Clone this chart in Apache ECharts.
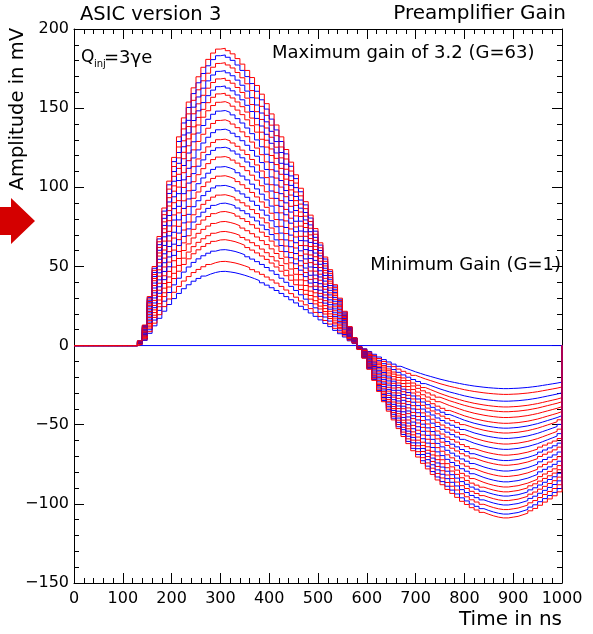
<!DOCTYPE html>
<html><head><meta charset="utf-8">
<script src="https://cdn.jsdelivr.net/npm/echarts@6/dist/echarts.min.js"></script>
<style>html,body{margin:0;padding:0;background:#fff}#c{width:593px;height:634px}</style>
</head><body><div id="c"></div>
<script>
// ---- data ----
const binWidth = 10;               // ns per histogram bin
const timeMin = 0, timeMax = 1000;
const ampMin = -150, ampMax = 200;
// reference pulse: the highest-gain curve (G=63), mV per 10 ns bin, bins start at 0,10,...,990
const referencePulse = [
  0,0,0,0,0,0,0,0,0,0,            // 0-90
  0,0,0,3,13,31,50,69,87,104,     // 100-190
  119,132,144,154,163,170,176,181,185,187.5, // 200-290
  188,186.5,184.5,181.5,178,174,169.5,164.5,159,153, // 300-390
  146.5,139.5,132,124,116,108,99.5,91,82.5,74, // 400-490
  65,56,48,38.5,30,21.7,12,5,-2.5,-8, // 500-590
  -15,-22,-29,-35.5,-41.5,-47,-52.5,-57.5,-62,-66.5, // 600-690
  -70.5,-74.5,-78,-81.5,-85,-88,-91,-93.5,-96,-98.5, // 700-790
  -100.5,-102.5,-104,-105.5,-106.7,-107.7,-108.5,-109,-109,-108.5, // 800-890
  -108,-107,-106,-104.5,-103,-101,-99,-97,-95,-92.5  // 900-990
];
const referencePeak = 188;
// peak amplitude of each gain setting, from highest to lowest (mV)
const peakAmplitudes = [187.8,183.6,178.7,173.7,168.9,164,159.4,154.1,148.5,142.6,136.7,130.4,125.3,
  119.4,113.1,107.3,101.2,95.3,90,84.7,78.4,72.1,66.9,60.6,53.2,46.9];
const curveColors = ['r','b','r','b','r','b','r','r','b','r','b','r','b','r','b','r','b','r','b','r','r','r','r','b','r','b'];
const xTickValues = [0,100,200,300,400,500,600,700,800,900,1000];
const yTickValues = [-150,-100,-50,0,50,100,150,200];
const titleLeft = 'ASIC version 3';
const titleRight = 'Preamplifier Gain';
const maxLabel = 'Maximum gain of 3.2 (G=63)';
const minLabel = 'Minimum Gain (G=1)';
const xTitle = 'Time in ns';
const yTitle = 'Amplitude in mV';

// ---- build ----
const RED = '#ff0000', BLUE = '#0000ff';
const timeBins = referencePulse.map((_, i) => timeMin + i * binWidth);
function curveData(peak) {
  const d = timeBins.map((t, i) => [t, +(referencePulse[i] * peak / referencePeak).toFixed(3)]);
  d.push([timeMax, 0]);
  return d;
}
const series = [{
  type: 'line', step: 'end', symbol: 'none', silent: true,
  data: [[timeMin, 0], [timeMax, 0]],
  lineStyle: { color: BLUE, width: 1 }
}];
for (let k = peakAmplitudes.length - 1; k >= 0; k--) {
  series.push({
    type: 'line', step: 'end', symbol: 'none', silent: true,
    data: curveData(peakAmplitudes[k]),
    lineStyle: { color: curveColors[k] === 'r' ? RED : BLUE, width: 1 }
  });
}
const fmt = v => String(v).replace('-', '\u2212');
const FONT = 'DejaVu Sans';
function axisCommon() {
  return {
    axisLine: { show: true, onZero: false, lineStyle: { color: '#000', width: 1 } },
    axisTick: { show: true, inside: true, length: 10, lineStyle: { color: '#000' } },
    minorTick: { show: true, splitNumber: 5, length: 5, lineStyle: { color: '#000' } },
    splitLine: { show: false }, minorSplitLine: { show: false }
  };
}
const chart = echarts.init(document.getElementById('c'), null, { renderer: 'canvas' });
chart.setOption({
  animation: false,
  backgroundColor: '#fff',
  grid: { left: 74, right: 31, top: 29, bottom: 51, containLabel: false },
  xAxis: [
    Object.assign({ type: 'value', position: 'bottom', min: timeMin, max: timeMax, interval: 100,
      axisLabel: { show: true, margin: 8, color: '#000', fontFamily: FONT, fontSize: 16,
        formatter: v => xTickValues.includes(v) ? fmt(v) : '' } }, axisCommon()),
    Object.assign({ type: 'value', position: 'top', min: timeMin, max: timeMax, interval: 100,
      axisLabel: { show: false } }, axisCommon())
  ],
  yAxis: [
    Object.assign({ type: 'value', position: 'left', min: ampMin, max: ampMax, interval: 50,
      axisLabel: { show: true, margin: 5, color: '#000', fontFamily: FONT, fontSize: 16,
        formatter: v => yTickValues.includes(v) ? fmt(v) : '' } }, axisCommon()),
    Object.assign({ type: 'value', position: 'right', min: ampMin, max: ampMax, interval: 50,
      axisLabel: { show: false } }, axisCommon())
  ],
  series: series,
  graphic: [
    { type: 'polygon', shape: { points: [[0,207],[11,207],[11,198],[35,221],[11,244],[11,235],[0,235]] },
      style: { fill: '#d40000' } },
    { type: 'text', x: 80, y: 15, style: { text: titleLeft, font: '19.5px "DejaVu Sans"', fill: '#000',
      textAlign: 'left', textVerticalAlign: 'middle' } },
    { type: 'text', x: 566, y: 14, style: { text: titleRight, font: '20px "DejaVu Sans"', fill: '#000',
      textAlign: 'right', textVerticalAlign: 'middle' } },
    { type: 'text', x: 81, y: 58, style: { text: 'Q', font: '17px "DejaVu Sans"', fill: '#000',
      textAlign: 'left', textVerticalAlign: 'middle' } },
    { type: 'text', x: 94, y: 64, style: { text: 'inj', font: '10px "DejaVu Sans"', fill: '#000',
      textAlign: 'left', textVerticalAlign: 'middle' } },
    { type: 'text', x: 104, y: 58, style: { text: '=3\u03b3e', font: '18px "DejaVu Sans"', fill: '#000',
      textAlign: 'left', textVerticalAlign: 'middle' } },
    { type: 'text', x: 272, y: 53, style: { text: maxLabel, font: '18px "DejaVu Sans"', fill: '#000',
      textAlign: 'left', textVerticalAlign: 'middle' } },
    { type: 'text', x: 561, y: 265, style: { text: minLabel, font: '18px "DejaVu Sans"', fill: '#000',
      textAlign: 'right', textVerticalAlign: 'middle' } },
    { type: 'text', x: 562, y: 620, style: { text: xTitle, font: '20px "DejaVu Sans"', fill: '#000',
      textAlign: 'right', textVerticalAlign: 'middle' } },
    { type: 'text', x: 18, y: 28, rotation: Math.PI / 2, style: { text: yTitle, font: '19.5px "DejaVu Sans"', fill: '#000',
      textAlign: 'right', textVerticalAlign: 'middle' } }
  ]
});
</script>
</body></html>
